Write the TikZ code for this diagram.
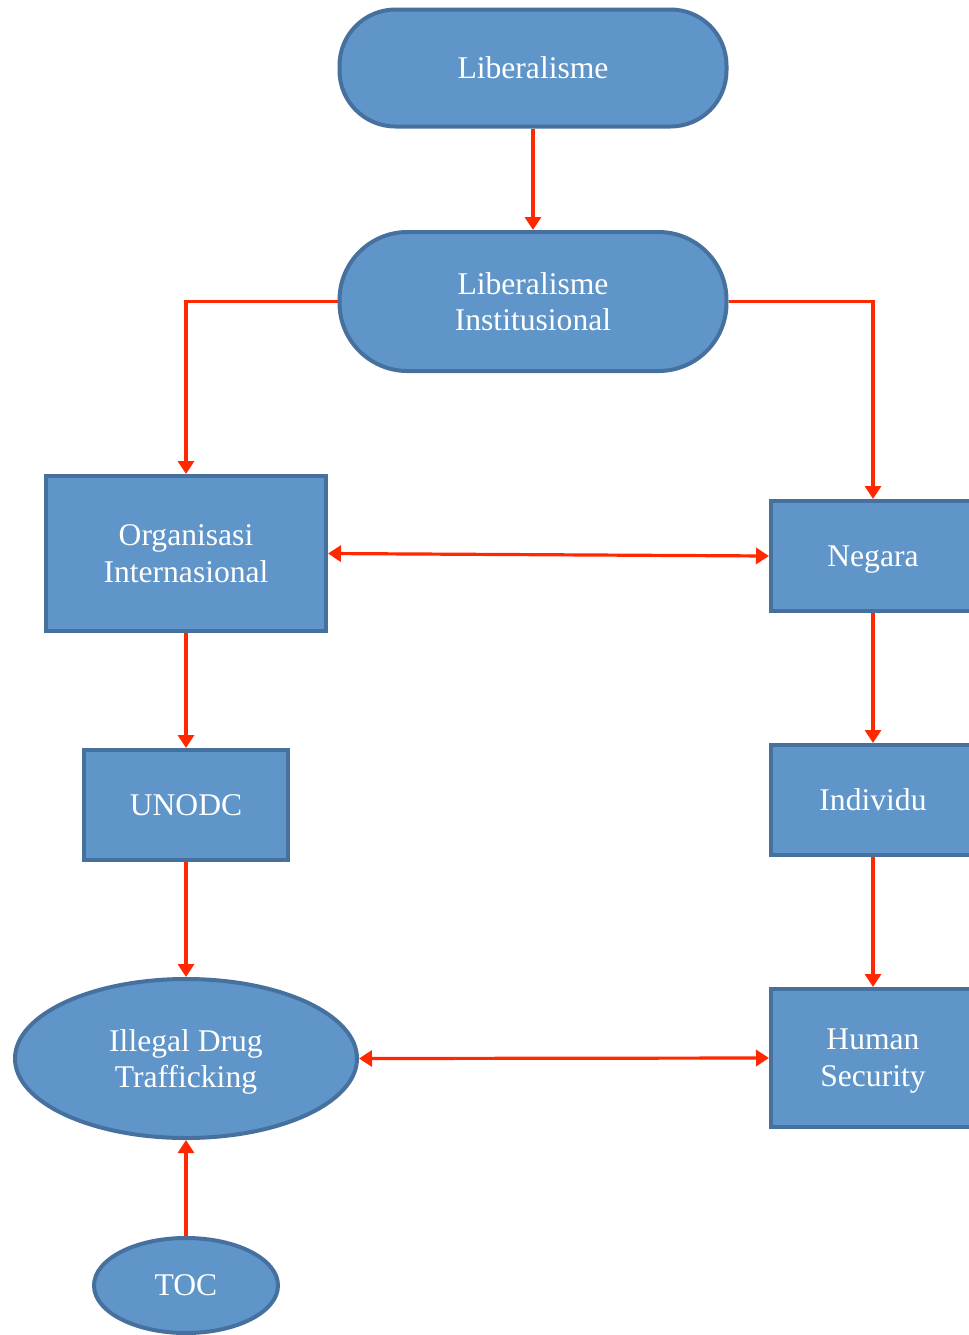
\documentclass[tikz,border=0pt]{standalone}
\usepackage{fontspec}
\setmainfont{Liberation Serif}
\usetikzlibrary{arrows.meta,shapes.geometric}
\definecolor{boxfill}{RGB}{95,149,200}
\definecolor{boxline}{RGB}{70,113,158}
\definecolor{arrred}{RGB}{255,40,0}
\tikzset{
  base/.style={draw=boxline, fill=boxfill, line width=2pt, text=white,
    font=\fontsize{15.8}{18.4}\selectfont, align=center, inner sep=0pt, text depth=0pt},
  stadium/.style={base, rectangle, rounded corners=28pt},
  boxnode/.style={base, rectangle},
  ellnode/.style={base, ellipse},
  conn/.style={draw=arrred, line width=1.6pt, -{Triangle[length=6.5pt,width=8pt]}},
  biconn/.style={draw=arrred, line width=1.6pt, {Triangle[length=6.5pt,width=8pt]}-{Triangle[length=6.5pt,width=8pt]}}
}
\begin{document}
\begin{tikzpicture}[x=0.5pt,y=-0.5pt]
\path[use as bounding box, clip] (0,0) rectangle (969,1335);
\fill[white] (0,0) rectangle (969,1335);
\node[stadium, minimum width=193.5pt, minimum height=58.5pt] (lib) at (533,68) {Liberalisme};
\node[stadium, minimum width=193.5pt, minimum height=69.5pt, rounded corners=34pt] (inst) at (533,301.5) {Liberalisme\\Institusional};
\node[boxnode, minimum width=140pt, minimum height=77.5pt] (org) at (186,553.5) {Organisasi\\Internasional};
\node[boxnode, minimum width=102pt, minimum height=55pt] (neg) at (873,556) {Negara};
\node[boxnode, minimum width=102pt, minimum height=55pt] (unodc) at (186,805) {UNODC};
\node[boxnode, minimum width=102pt, minimum height=55pt] (ind) at (873,800) {Individu};
\node[ellnode, minimum width=171pt, minimum height=79.5pt] (idt) at (186,1058.5) {Illegal Drug\\Trafficking};
\node[boxnode, minimum width=102pt, minimum height=69pt] (hs) at (873,1058) {Human\\Security};
\node[ellnode, minimum width=92pt, minimum height=47.5pt] (toc) at (186,1285.5) {TOC};
\draw[conn] (lib) -- (inst);
\draw[conn] (inst.west) -| (org.north);
\draw[conn] (inst.east) -| (neg.north);
\draw[biconn] (org.east) -- (neg.west);
\draw[conn] (org) -- (unodc);
\draw[conn] (neg) -- (ind);
\draw[conn] (unodc) -- (idt);
\draw[conn] (ind) -- (hs);
\draw[biconn] (idt.east) -- (hs.west);
\draw[conn] (toc) -- (idt);
\end{tikzpicture}
\end{document}
